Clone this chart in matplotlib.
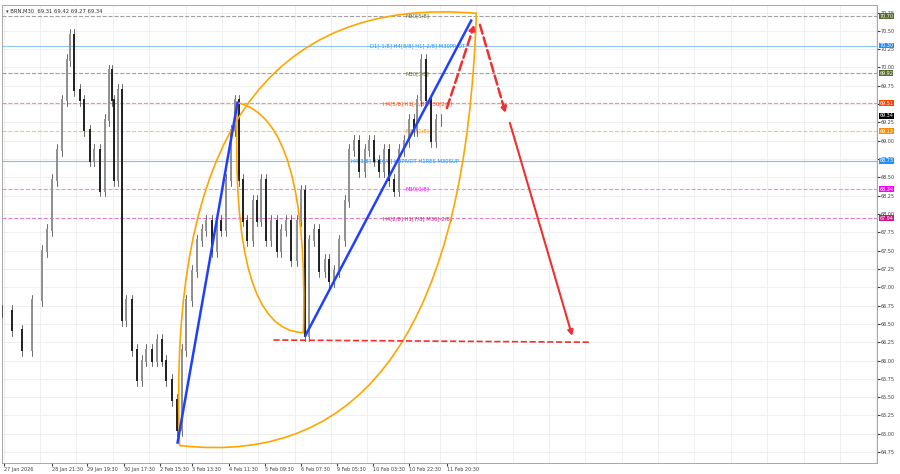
import numpy as np
import matplotlib
matplotlib.use("Agg")
import matplotlib.pyplot as plt
from matplotlib.path import Path
from matplotlib.patches import PathPatch

# price path (bar index, close)
bar_x = [0, 2.5, 5, 7.5, 10, 11.2, 12.5, 13.8, 15, 16.2, 17, 18, 19.5, 20.5, 22, 23, 24.5, 25.8, 26.8, 27.5, 28.2,
         29.2, 30, 31.2, 32.5, 33.8, 35, 36.2, 37.5, 38.8, 40, 41.2, 42.5, 43.8, 45, 46.2, 47.5, 48.8, 50, 51.2, 52.5,
         53.8, 55, 56.2, 57.5, 58.5, 59.5, 60.5, 61.5, 62.8, 63.8, 65, 66.2, 67.5, 68.8, 70, 71.2, 72.5, 73.8, 75,
         76, 77, 78.2, 79.5, 80.8, 82, 83.2, 84.5, 85.8, 87, 88.2, 89.5, 90.8, 92, 93.2, 94.5, 95.8, 97, 98.2, 99.5,
         100.8, 102, 103.2, 104, 105, 106.2, 107.5, 108.8, 110]
close = [66.68, 66.41, 66.14, 66.82, 67.50, 67.78, 68.46, 68.87, 69.55, 70.10, 70.44, 69.69, 69.55, 69.14, 68.73,
         68.87, 68.32, 69.28, 69.96, 69.55, 68.46, 69.69, 66.55, 66.82, 66.14, 65.73, 66.00, 66.14, 66.00, 66.28,
         66.00, 65.73, 65.46, 65.05, 66.14, 66.82, 67.22, 67.64, 67.78, 67.91, 67.50, 67.91, 67.78, 68.46, 69.14,
         69.55, 68.46, 67.91, 67.64, 68.18, 67.91, 68.46, 67.64, 67.91, 67.50, 67.78, 67.91, 67.37, 67.91, 68.32,
         66.34, 67.64, 67.78, 67.22, 67.37, 67.09, 67.22, 67.64, 68.18, 68.87, 69.00, 68.59, 68.87, 69.00, 68.73,
         68.59, 68.87, 68.46, 68.32, 68.87, 69.00, 69.28, 69.14, 69.55, 70.10, 69.55, 69.00, 69.28, 69.28, 69.34]

# horizontal levels: price, line colour, box colour, label text, label bar
lvl_price = [70.70, 70.30, 69.92, 69.51, 69.13, 68.73, 68.34, 67.94]
lvl_line = ["#a0a0a0", "#90c8f0", "#a0a0a0", "#ff9070", "#ffc070", "#80c0f0", "#ff80ff", "#e080c0"]
lvl_box = ["#556b2f", "#1e90ff", "#556b2f", "#ff4500", "#ff8c00", "#1e90ff", "#ff00ff", "#c71585"]
lvl_style = ["--", "-", "--", "--", "--", "-", "--", "--"]
lvl_text = ["M30[5/8]", "D1[-1/8] H4[8/8] H1[-2/8] M30PIVOT", "M30[3/8]", "H4[5/8] H1[-1/8] M30[2/8]",
            "M30[1/8]", "H4[3/8] H1[6/8] H4PIVOT H1RES M30SUP", "M30[0/8]", "H4[2/8] H1[7/8] M30[-2/8]"]
lvl_tx = [104, 104, 104, 104, 104, 101, 104, 104]
lvl_tcol = ["#556b2f", "#1e90ff", "#556b2f", "#ff4500", "#ff8c00", "#1e90ff", "#ff00ff", "#c71585"]

xtick_pos = [0.5, 12.5, 21.3, 30.5, 39.5, 47.5, 56.8, 65.8, 75, 83.8, 93, 102, 111.5]
xtick_lbl = ["27 Jan 2026", "28 Jan 21:30", "29 Jan 19:30", "30 Jan 17:30", "2 Feb 15:30", "3 Feb 13:30",
             "4 Feb 11:30", "5 Feb 09:30", "6 Feb 07:30", "9 Feb 05:30", "10 Feb 03:30", "10 Feb 22:30",
             "11 Feb 20:30"]

# drawn trend lines (bar, price)
blue1 = [(44, 64.88), (59, 69.52)]
blue2 = [(76, 66.34), (117.5, 70.64)]
red_base = [(68, 66.28), (147.5, 66.25)]
red_up = [(111.2, 69.41), (118.5, 70.62)]
red_dn = [(119.5, 70.62), (126.3, 69.34)]
red_solid = [(127, 69.28), (143, 66.30)]
leaf_outer = [(44.5, 64.84), (115, 64.4), (118.8, 70.74), (40, 71.1), (44.5, 64.84)]
leaf_inner = [(59, 69.52), (77, 69.3), (75.5, 66.38), (57, 66.4), (59, 69.52)]

fig = plt.figure(figsize=(9, 4.74), dpi=100)
ax = fig.add_axes([0.002, 0.023, 0.972, 0.966])
ax.set_xlim(0, 219)
ax.set_ylim(64.60, 70.85)

for xp in np.arange(0.5, 219, 9.1):
    ax.axvline(xp, color="#ececec", lw=0.6, zorder=0)
for yp in np.arange(64.75, 70.8, 0.25):
    ax.axhline(yp, color="#ececec", lw=0.6, zorder=0)

for p, lc, ls, t, tx, tc in zip(lvl_price, lvl_line, lvl_style, lvl_text, lvl_tx, lvl_tcol):
    ax.axhline(p, color=lc, lw=0.8, ls=ls, zorder=1)
    ax.text(tx, p, t, fontsize=3.8, color=tc, ha="center", va="center", zorder=2)

# candles
prev = close[0]
for x, c in zip(bar_x, close):
    o = prev
    hi, lo = max(o, c) + 0.08, min(o, c) - 0.08
    ax.plot([x, x], [lo, hi], color="#303030", lw=0.5, zorder=3)
    ax.plot([x, x], [o, c], color="#202020" if c < o else "#909090", lw=1.4, zorder=3)
    prev = c


def bez(pts, **kw):
    codes = [Path.MOVETO, Path.CURVE3, Path.CURVE3, Path.CURVE3, Path.CURVE3]
    ax.add_patch(PathPatch(Path(pts, codes), fill=False, **kw))


bez(leaf_outer, edgecolor="#ffa500", lw=1.2, zorder=4)
bez(leaf_inner, edgecolor="#ffa500", lw=1.2, zorder=4)

for seg in (blue1, blue2):
    ax.plot(*zip(*seg), color="#2040ff", lw=1.8, zorder=5)
ax.plot(*zip(*red_base), color="#f03030", lw=1.2, ls="--", zorder=5)
for seg in (red_up, red_dn):
    ax.annotate("", xy=seg[1], xytext=seg[0],
                arrowprops=dict(arrowstyle="-|>", color="#f03030", lw=1.8, ls="--", mutation_scale=8), zorder=5)
ax.annotate("", xy=red_solid[1], xytext=red_solid[0],
            arrowprops=dict(arrowstyle="-|>", color="#f03030", lw=1.5, mutation_scale=8), zorder=5)

ax.yaxis.tick_right()
yt = np.arange(64.75, 70.8, 0.25)
ax.set_yticks(yt)
ax.set_yticklabels([f"{v:.2f}" for v in yt])
ax.set_xticks(xtick_pos)
ax.set_xticklabels(xtick_lbl, ha="left")
ax.tick_params(labelsize=3.5, length=2, colors="#404040", pad=1)
for s in ax.spines.values():
    s.set_color("#999999")
    s.set_linewidth(0.6)

for p, bc in zip(lvl_price + [69.34], lvl_box + ["#000000"]):
    ax.text(1.003, p, f"{p:.2f}", transform=ax.get_yaxis_transform(), fontsize=3.5, color="white",
            va="center", ha="left", bbox=dict(boxstyle="square,pad=0.1", fc=bc, ec="none"), zorder=6)

ax.text(0.005, 0.993, "\u25be BRN,M30  69.31 69.42 69.27 69.34", transform=ax.transAxes, fontsize=3.8,
        va="top", color="#303030")

fig.savefig("out.png", dpi=100)
